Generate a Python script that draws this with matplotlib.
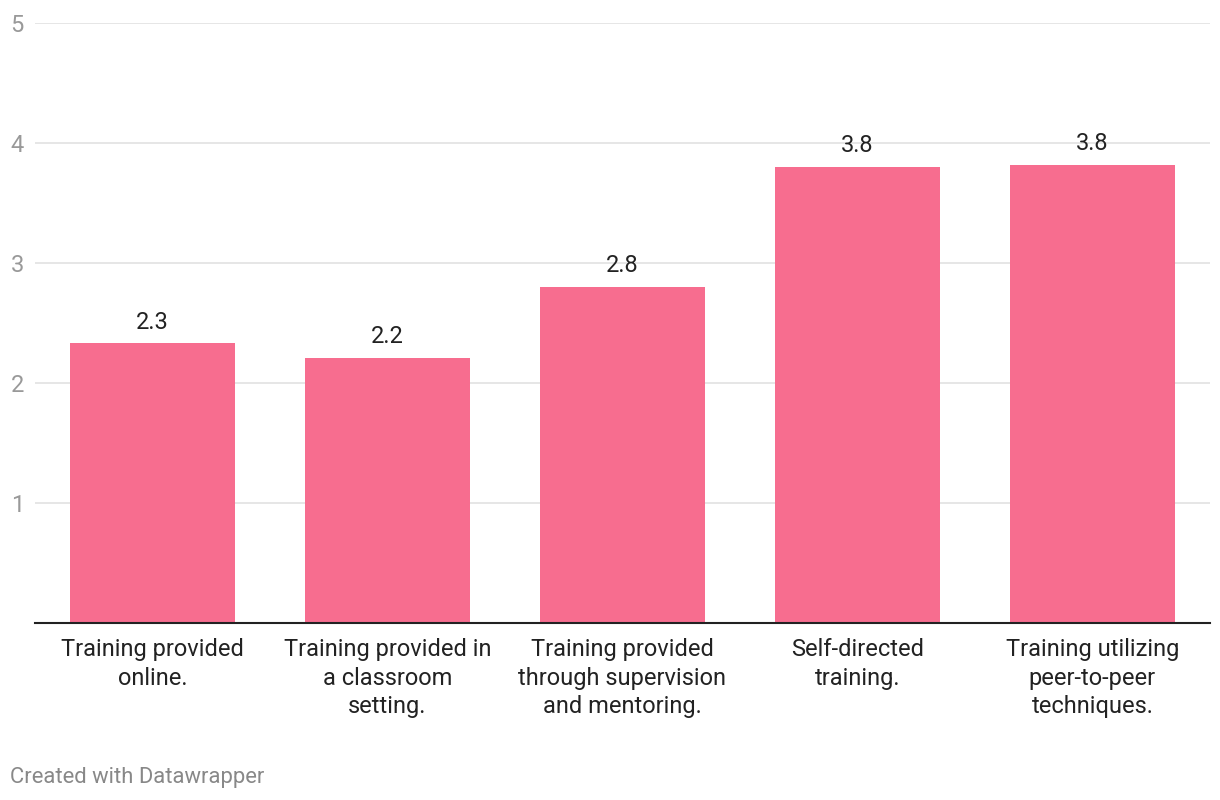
import matplotlib.pyplot as plt

plt.rcParams['font.family'] = ['Roboto', 'DejaVu Sans']

categories = [
    "Training provided\nonline.",
    "Training provided in\na classroom\nsetting.",
    "Training provided\nthrough supervision\nand mentoring.",
    "Self-directed\ntraining.",
    "Training utilizing\npeer-to-peer\ntechniques.",
]
values = [2.33, 2.21, 2.8, 3.8, 3.82]
labels = ["2.3", "2.2", "2.8", "3.8", "3.8"]
yticks = [1, 2, 3, 4, 5]

fig = plt.figure(figsize=(12.2, 8), dpi=100)
ax = fig.add_axes([0.0287, 0.22125, 0.963, 0.75])

x = range(len(values))
bars = ax.bar(x, values, width=0.7, color="#f76d8f", zorder=3)

for b, lab in zip(bars, labels):
    ax.annotate(lab, (b.get_x() + b.get_width() / 2, b.get_height()),
                xytext=(0, 7), textcoords="offset points",
                ha="center", va="bottom", fontsize=17, color="#222222")

ax.set_xlim(-0.5, 4.5)
ax.set_ylim(0, 5)
ax.set_yticks(yticks)
ax.set_yticklabels([str(t) for t in yticks], color="#999999", fontsize=17)
ax.tick_params(axis="y", length=0, pad=8)
ax.grid(axis="y", color="#e2e2e2", linewidth=1.2, zorder=0)

ax.set_xticks(list(x))
ax.set_xticklabels(categories, fontsize=17, color="#222222", linespacing=1.3)
ax.tick_params(axis="x", length=0, pad=11)

for s in ["top", "right", "left"]:
    ax.spines[s].set_visible(False)
ax.spines["bottom"].set_color("#222222")
ax.spines["bottom"].set_linewidth(1.5)
ax.spines["bottom"].set_zorder(4)

fig.text(0.008, 0.021, "Created with Datawrapper", fontsize=15.8, color="#888888")

fig.savefig("out.png", dpi=100)
